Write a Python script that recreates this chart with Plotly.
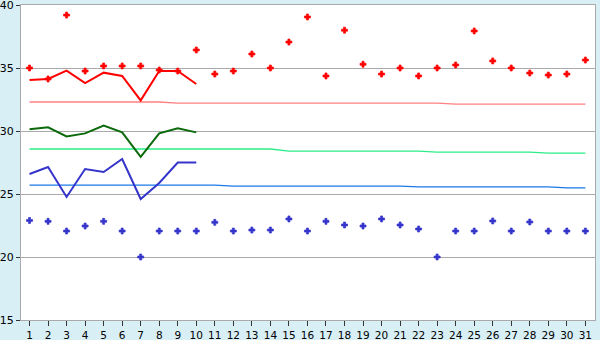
import plotly.graph_objects as go

days = list(range(1, 32))
line_days = list(range(1, 11))

red_points = [35.0, 34.13, 39.2, 34.76, 35.16, 35.16, 35.16, 34.84, 34.76, 36.43,
              34.52, 34.76, 36.11, 35.0, 37.06, 39.05, 34.37, 38.0, 35.3, 34.52,
              35.0, 34.37, 35.0, 35.24, 37.94, 35.56, 35.0, 34.6, 34.44, 34.52, 35.63]
blue_points = [22.9, 22.83, 22.06, 22.46, 22.83, 22.06, 20.0, 22.06, 22.06, 22.06,
               22.75, 22.06, 22.14, 22.14, 23.02, 22.06, 22.83, 22.54, 22.46, 23.02,
               22.54, 22.22, 20.0, 22.06, 22.06, 22.86, 22.06, 22.78, 22.06, 22.06, 22.06]

red_line = [34.05, 34.13, 34.79, 33.8, 34.63, 34.37, 32.43, 34.76, 34.76, 33.73]
green_line = [30.13, 30.29, 29.57, 29.81, 30.44, 29.89, 27.94, 29.81, 30.21, 29.89]
blue_line = [26.59, 27.14, 24.76, 26.98, 26.75, 27.78, 24.6, 25.87, 27.5, 27.5]

red_ref = [32.30] * 8 + [32.22] * 15 + [32.14] * 8
green_ref = [28.57] * 14 + [28.41] * 8 + [28.33] * 6 + [28.25] * 3
blue_ref = [25.71] * 11 + [25.63] * 10 + [25.56] * 8 + [25.48] * 2

y_ticks = [15, 20, 25, 30, 35, 40]

fig = go.Figure()

for vals, col in [(red_ref, "#ff8080"), (green_ref, "#2aee88"), (blue_ref, "#1a7ae8")]:
    fig.add_trace(go.Scatter(x=days, y=vals, mode="lines",
                             line=dict(color=col, width=1.3), hoverinfo="skip"))

for vals, col in [(red_line, "#ff0000"), (green_line, "#0b6a0b"), (blue_line, "#3535cc")]:
    fig.add_trace(go.Scatter(x=line_days, y=vals, mode="lines",
                             line=dict(color=col, width=2), hoverinfo="skip"))

fig.add_trace(go.Scatter(x=days, y=red_points, mode="markers",
                         marker=dict(symbol="cross", size=5, color="#ff0000",
                                     line=dict(width=0.7, color="#ff0000"))))
fig.add_trace(go.Scatter(x=days, y=blue_points, mode="markers",
                         marker=dict(symbol="cross", size=5, color="#3535cc",
                                     line=dict(width=0.7, color="#3535cc"))))

fig.update_layout(
    width=600, height=340,
    margin=dict(l=21, r=5, t=5, b=20),
    paper_bgcolor="#d9eff6",
    plot_bgcolor="#ffffff",
    showlegend=False,
    font=dict(family="DejaVu Sans", size=10.5, color="#000000"),
)
fig.update_xaxes(
    range=[0.54, 31.52], tickvals=days, ticktext=[str(d) for d in days],
    showgrid=False, zeroline=False, automargin=False,
    showline=True, linecolor="#aaaaaa", linewidth=1, mirror=True,
    ticks="outside", ticklen=5, tickcolor="#333333", tickwidth=1,
)
fig.update_yaxes(
    range=[15, 40], tickvals=y_ticks,
    showgrid=True, gridcolor="#aaaaaa", gridwidth=1, zeroline=False, automargin=False,
    showline=True, linecolor="#aaaaaa", linewidth=1, mirror=True,
    ticks="outside", ticklen=4, tickcolor="#333333", tickwidth=1,
    tickfont=dict(size=11), ticklabeloverflow="allow",
)

fig.write_html("out.html")
